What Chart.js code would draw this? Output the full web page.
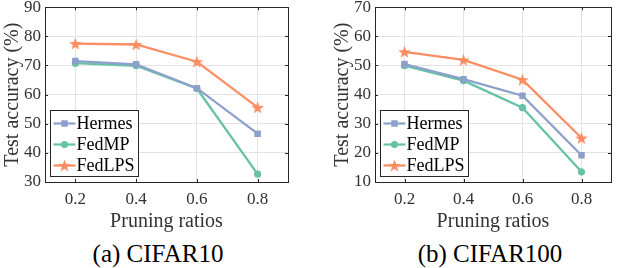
<!DOCTYPE html>
<html>
<head>
<meta charset="utf-8">
<script src="https://cdn.jsdelivr.net/npm/chart.js@4.4.1/dist/chart.umd.min.js"></script>
<style>
  html, body { margin: 0; padding: 0; background: #fff; width: 618px; height: 268px; overflow: hidden; }
  .wrap { position: absolute; top: -7px; }
  canvas { display: block; }
  .cap { position: absolute; font-family: 'Liberation Serif', 'Times New Roman', serif; font-size: 25px; color: #000; white-space: nowrap; transform: translateX(-50%); top: 240px; }
</style>
</head>
<body>
<div class="wrap" id="w1" style="left:0px;"><canvas id="c1" width="309" height="247"></canvas></div>
<div class="wrap" id="w2" style="left:309px;"><canvas id="c2" width="309" height="247"></canvas></div>
<div class="cap" style="left:158px;">(a) CIFAR10</div>
<div class="cap" style="left:490px;">(b) CIFAR100</div>
<script>
// ---- Data ----
const ratios = [0.2, 0.4, 0.6, 0.8];
const seriesNames = ['Hermes', 'FedMP', 'FedLPS'];
const c10Hermes = [71.5, 70.4, 62.2, 46.6];
const c10FedMP = [70.8, 69.9, 62.1, 32.7];
const c10FedLPS = [77.5, 77.2, 71.3, 55.6];
const c100Hermes = [50.5, 45.3, 39.6, 19.2];
const c100FedMP = [49.9, 44.8, 35.5, 13.5];
const c100FedLPS = [54.7, 51.9, 45.1, 25.1];
const c10YTicks = [30, 40, 50, 60, 70, 80, 90];
const c100YTicks = [10, 20, 30, 40, 50, 60, 70];

const FONT = "'Liberation Serif', 'Times New Roman', serif";
const AXIS = '#262626';
const GRID = '#e3e3e3';
const colors = ['#8da0cb', '#66c2a5', '#fc8d62'];

function makeStar(color) {
  const s = 15;
  const cv = document.createElement('canvas');
  cv.width = s; cv.height = s;
  const ctx = cv.getContext('2d');
  const cx = s / 2, cy = s / 2 + 0.6, R = 6.6, r = 2.7;
  ctx.beginPath();
  for (let i = 0; i < 10; i++) {
    const ang = -Math.PI / 2 + i * Math.PI / 5;
    const rad = i % 2 === 0 ? R : r;
    const x = cx + rad * Math.cos(ang), y = cy + rad * Math.sin(ang);
    if (i === 0) ctx.moveTo(x, y); else ctx.lineTo(x, y);
  }
  ctx.closePath();
  ctx.fillStyle = color;
  ctx.fill();
  return cv;
}
const starImg = makeStar(colors[2]);
const pointStyles = ['rect', 'circle', starImg];
const pointRadii = [4.6, 3.6, 7];

const framePlugin = {
  id: 'frame',
  afterDatasetsDraw(chart) {
    const { ctx, chartArea: a, scales } = chart;
    ctx.save();
    ctx.strokeStyle = AXIS;
    ctx.lineWidth = 1;
    ctx.strokeRect(Math.round(a.left) + 0.5, Math.round(a.top) + 0.5, Math.round(a.right - a.left), Math.round(a.bottom - a.top));
    const tl = 3;
    ctx.beginPath();
    scales.y.ticks.forEach(t => {
      const y = Math.round(scales.y.getPixelForValue(t.value)) + 0.5;
      ctx.moveTo(a.left, y); ctx.lineTo(a.left + tl, y);
      ctx.moveTo(a.right, y); ctx.lineTo(a.right - tl, y);
    });
    scales.x.ticks.forEach(t => {
      const x = Math.round(scales.x.getPixelForValue(t.value)) + 0.5;
      ctx.moveTo(x, a.bottom); ctx.lineTo(x, a.bottom - tl);
      ctx.moveTo(x, a.top); ctx.lineTo(x, a.top + tl);
    });
    ctx.stroke();
    ctx.restore();
  },
  afterDraw(chart) {
    const { ctx, chartArea: a } = chart;
    const bw = 88, bh = 66;
    const bx = Math.round(a.left + 5) + 0.5;
    const by = Math.round(a.bottom - 6 - bh) + 0.5;
    ctx.save();
    ctx.fillStyle = '#fff';
    ctx.fillRect(bx, by, bw, bh);
    ctx.strokeStyle = AXIS;
    ctx.lineWidth = 1;
    ctx.strokeRect(bx, by, bw, bh);
    const rows = [13, 34, 55];
    chart.data.datasets.forEach((ds, i) => {
      const y = by + rows[i];
      ctx.strokeStyle = ds.borderColor;
      ctx.lineWidth = 2.2;
      ctx.beginPath();
      ctx.moveTo(bx + 3, y); ctx.lineTo(bx + 25, y);
      ctx.stroke();
      if (typeof ds.pointStyle === 'string') {
        ctx.fillStyle = ds.pointBackgroundColor;
        ctx.beginPath();
        if (ds.pointStyle === 'rect') {
          const s = Math.SQRT1_2 * ds.pointRadius;
          ctx.rect(bx + 14 - s, y - s, 2 * s, 2 * s);
        } else {
          ctx.arc(bx + 14, y, ds.pointRadius, 0, Math.PI * 2);
        }
        ctx.fill();
      } else {
        const img = ds.pointStyle;
        ctx.drawImage(img, bx + 14 - img.width / 2, y - img.height / 2);
      }
      ctx.fillStyle = '#000';
      ctx.font = '18px ' + FONT;
      ctx.textBaseline = 'middle';
      ctx.textAlign = 'left';
      ctx.fillText(ds.label, bx + 26, y + 1);
    });
    ctx.restore();
  }
};

function build(id, dataArrs, yTicks, padLeft, padRight) {
  const datasets = dataArrs.map((arr, i) => ({
    label: seriesNames[i],
    data: ratios.map((r, j) => ({ x: r, y: arr[j] })),
    borderColor: colors[i],
    backgroundColor: colors[i],
    pointBackgroundColor: colors[i],
    pointBorderColor: colors[i],
    pointBorderWidth: 0,
    borderWidth: 2.3,
    pointStyle: pointStyles[i],
    pointRadius: pointRadii[i],
    tension: 0
  }));
  return new Chart(document.getElementById(id), {
    type: 'line',
    data: { datasets },
    plugins: [framePlugin],
    options: {
      responsive: false,
      animation: false,
      events: [],
      layout: { padding: { left: padLeft, right: padRight, top: 0, bottom: 0 } },
      plugins: { legend: { display: false }, tooltip: { enabled: false } },
      scales: {
        x: {
          type: 'linear', min: 0.1, max: 0.9,
          afterBuildTicks: s => { s.ticks = ratios.map(v => ({ value: v })); },
          afterFit: s => { s.height = 58; },
          grid: { color: GRID, drawTicks: false, lineWidth: 1 },
          border: { display: false },
          ticks: { padding: 7, color: '#333', font: { family: FONT, size: 17 }, callback: v => v.toFixed(1), maxRotation: 0 },
          title: { display: true, text: 'Pruning ratios', color: '#333', font: { family: FONT, size: 20 }, padding: { top: 0, bottom: 6 } }
        },
        y: {
          type: 'linear', min: yTicks[0], max: yTicks[yTicks.length - 1],
          afterBuildTicks: s => { s.ticks = yTicks.map(v => ({ value: v })); },
          afterFit: s => { s.width = 44; },
          grid: { color: GRID, drawTicks: false, lineWidth: 1 },
          border: { display: false },
          ticks: { padding: 4, color: '#333', font: { family: FONT, size: 17 } },
          title: { display: true, text: 'Test accuracy (%)', color: '#333', font: { family: FONT, size: 20 }, padding: { top: 0, bottom: 0 } }
        }
      }
    }
  });
}

build('c1', [c10Hermes, c10FedMP, c10FedLPS], c10YTicks, 1, 21);
build('c2', [c100Hermes, c100FedMP, c100FedLPS], c100YTicks, 22, 4);
</script>
</body>
</html>
